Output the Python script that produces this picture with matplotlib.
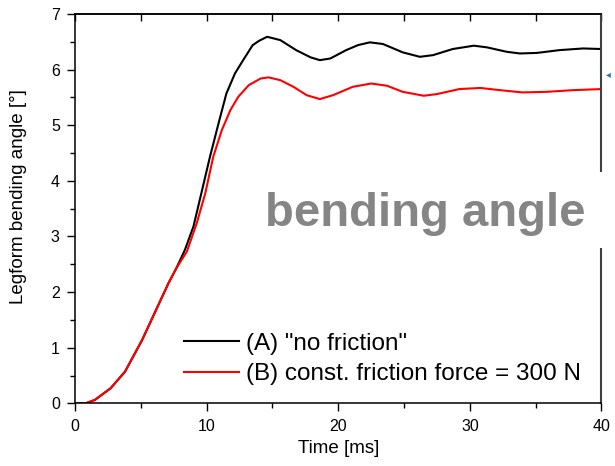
import matplotlib
matplotlib.use("Agg")
import matplotlib.pyplot as plt
from matplotlib.patches import Rectangle
from matplotlib.ticker import MultipleLocator

plt.rcParams['font.family'] = ['Liberation Sans', 'DejaVu Sans']

# (A) "no friction"
t_a = [0, 0.8, 1.5, 2.7, 3.8, 5.1, 6.1, 7.1, 7.7, 8.35, 9.0, 9.6, 10.25, 10.9,
       11.5, 12.15, 12.8, 13.5, 14.0, 14.6, 15.6, 16.8, 17.9, 18.6, 19.4, 20.6,
       21.5, 22.4, 23.4, 24.9, 26.2, 27.2, 28.7, 30.3, 31.3, 32.8, 33.8, 35.1,
       36.8, 38.6, 40]
v_a = [0, 0.0, 0.06, 0.27, 0.57, 1.14, 1.65, 2.16, 2.43, 2.76, 3.18, 3.78, 4.43,
       5.03, 5.57, 5.93, 6.18, 6.44, 6.52, 6.59, 6.53, 6.35, 6.22, 6.17, 6.2,
       6.35, 6.44, 6.49, 6.46, 6.31, 6.23, 6.26, 6.37, 6.43, 6.40, 6.32, 6.29,
       6.30, 6.35, 6.38, 6.37]

# (B) const. friction force = 300 N
t_b = [0, 0.8, 1.5, 2.7, 3.8, 5.1, 6.1, 7.1, 7.7, 8.5, 9.25, 9.9, 10.5, 11.15,
       11.8, 12.4, 13.2, 14.1, 14.7, 15.6, 16.6, 17.6, 18.6, 19.6, 21.1, 22.5,
       23.7, 24.9, 26.5, 27.5, 29.2, 30.8, 32.3, 34.0, 35.8, 37.8, 40]
v_b = [0, 0.0, 0.06, 0.27, 0.57, 1.14, 1.65, 2.16, 2.43, 2.73, 3.24, 3.78, 4.43,
       4.91, 5.27, 5.51, 5.72, 5.84, 5.86, 5.81, 5.69, 5.54, 5.47, 5.54, 5.69,
       5.75, 5.71, 5.60, 5.53, 5.56, 5.65, 5.67, 5.63, 5.59, 5.60, 5.63, 5.65]

labels = ['(A) "no friction"', '(B) const. friction force = 300 N']

fig = plt.figure(figsize=(6.15, 4.66), dpi=100)
ax = fig.add_axes([0.122, 0.1345, 0.856, 0.8355])

ax.plot(t_a, v_a, color='black', lw=1.5, label=labels[0])
ax.plot(t_b, v_b, color='#ff0000', lw=1.5, label=labels[1])

ax.set_xlim(0, 40)
ax.set_ylim(0, 7)
ax.xaxis.set_major_locator(MultipleLocator(10))
ax.xaxis.set_minor_locator(MultipleLocator(5))
ax.yaxis.set_major_locator(MultipleLocator(1))
ax.yaxis.set_minor_locator(MultipleLocator(0.5))

for s in ax.spines.values():
    s.set_linewidth(1.1)
ax.spines['right'].set_color('#404040')
ax.spines['right'].set_linewidth(1.5)

ax.tick_params(which='major', direction='out', length=6, width=1.0,
               labelsize=11.5, pad=5, right=False, top=False)
ax.tick_params(which='minor', direction='out', length=3.5, width=1.0,
               right=False, top=False)

# top axis: inward ticks, no labels
top = ax.secondary_xaxis('top')
top.xaxis.set_major_locator(MultipleLocator(5))
top.tick_params(direction='in', length=5, width=1.0, labeltop=False)
top.spines['top'].set_linewidth(1.1)

ax.set_xlabel('Time [ms]', fontsize=13.5)
ax.set_ylabel('Legform bending angle [°]', fontsize=13.5)
ax.xaxis.set_label_coords(0.5, -0.093)
ax.yaxis.set_label_coords(-0.092, 0.53)

ax.legend(loc='center left', bbox_to_anchor=(0.207, 0.114), frameon=False,
          fontsize=17.5, handlelength=2.25, handletextpad=0.3,
          labelspacing=0.35, borderpad=0, borderaxespad=0)

# white box behind the overlay title, cutting the right spine
ax.add_patch(Rectangle((0.35, 0.399), 0.67, 0.195, transform=ax.transAxes,
                       facecolor='white', edgecolor='none', zorder=2.6,
                       clip_on=False))
ax.text(0.665, 0.485, 'bending angle', transform=ax.transAxes, ha='center',
        va='center', fontsize=34, fontweight='bold', color='#858585', zorder=3)

fig.text(0.9885, 0.84, '◂', color='#2e75b6', fontsize=7, ha='center',
         va='center', family='DejaVu Sans')

fig.savefig('out.png', dpi=100)
